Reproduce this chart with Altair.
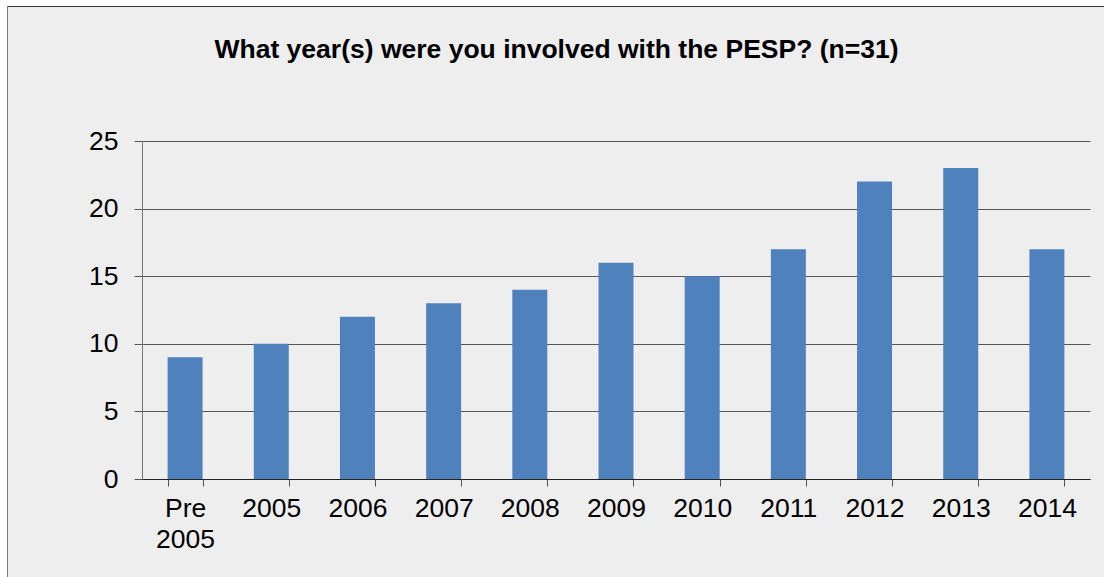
import altair as alt
import pandas as pd

categories = ["Pre 2005", "2005", "2006", "2007", "2008", "2009", "2010", "2011", "2012", "2013", "2014"]
counts = [9, 10, 12, 13, 14, 16, 15, 17, 22, 23, 17]
title_text = "What year(s) were you involved with the PESP? (n=31)"

df = pd.DataFrame({"year": categories, "count": counts})

W, H = 948, 338
FONT = "Liberation Sans"
GRID = "#555555"

bars = alt.Chart(df).mark_bar(color="#4F81BD").encode(
    x=alt.X(
        "year:N",
        sort=categories,
        title=None,
        scale=alt.Scale(paddingInner=0.594, paddingOuter=0.297),
        axis=alt.Axis(
            labelAngle=0,
            labelFont=FONT,
            labelFontSize=26.5,
            labelColor="black",
            labelPadding=9,
            labelLineHeight=31,
            labelExpr="split(datum.label, ' ')",
            tickBand="extent",
            tickSize=7,
            tickColor="#555555",
            domainColor="#222222",
            grid=False,
        ),
    ),
    y=alt.Y(
        "count:Q",
        title=None,
        scale=alt.Scale(domain=[0, 25], nice=False),
        axis=alt.Axis(
            values=[0, 5, 10, 15, 20, 25],
            labelFont=FONT,
            labelFontSize=26.5,
            labelColor="black",
            labelPadding=16,
            tickSize=8,
            tickColor=GRID,
            domainColor="#777777",
            grid=True,
            gridColor=GRID,
            gridOpacity=1,
        ),
    ),
)

frame_df = pd.DataFrame({"t": [title_text]})
base = alt.Chart(frame_df)

white_left = base.mark_rect(color="white").encode(
    x=alt.value(-142), x2=alt.value(-135), y=alt.value(-141), y2=alt.value(436)
)
white_top = base.mark_rect(color="white").encode(
    x=alt.value(-142), x2=alt.value(962), y=alt.value(-141), y2=alt.value(-134)
)
border_left = base.mark_rule(color="#7F7F7F", strokeWidth=1).encode(
    x=alt.value(-134.5), y=alt.value(-134.5), y2=alt.value(436)
)
border_top = base.mark_rule(color="#333333", strokeWidth=1).encode(
    x=alt.value(-134.5), x2=alt.value(962), y=alt.value(-134.5)
)
title = base.mark_text(
    font=FONT, fontSize=26.5, fontWeight="bold", color="black", baseline="alphabetic", align="center"
).encode(
    text="t:N", x=alt.value(556.5 - 142), y=alt.value(58 - 141)
)

chart = alt.layer(white_left, white_top, border_left, border_top, title, bars).properties(
    width=W,
    height=H,
    background="#EEEEEE",
    autosize=alt.AutoSizeParams(type="none"),
    padding={"left": 142, "top": 141, "right": 14, "bottom": 98},
).configure_view(stroke=None)

chart.save("out.html", embed_options={"renderer": "svg", "actions": False})
